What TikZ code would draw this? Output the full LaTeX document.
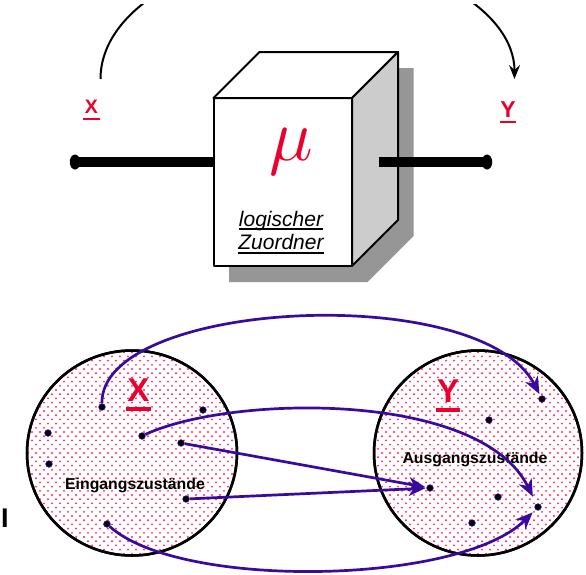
\RequirePackage{fix-cm}
\documentclass[tikz,border=0pt]{standalone}
\usepackage{fontspec}
\setmainfont{Liberation Sans}
\usetikzlibrary{arrows.meta,shapes.geometric}
\definecolor{xred}{RGB}{235,0,45}
\definecolor{arrblue}{RGB}{55,10,160}
\definecolor{sidegray}{RGB}{204,204,204}
\definecolor{shadowgray}{RGB}{150,150,150}
\definecolor{patred}{RGB}{255,40,95}
\tikzset{
  setell/.style={draw=black, line width=2.5pt, ellipse, inner sep=0pt},
  statedot/.style={circle, fill=black, draw=arrblue!80!black, line width=0.7pt,
    minimum size=6.5pt, inner sep=0pt},
  maparr/.style={draw=arrblue, line width=2.7pt,
    -{Stealth[length=17pt,width=14pt,inset=5pt]}},
  toparr/.style={draw=black, line width=2pt,
    -{Stealth[length=14pt,width=11pt,inset=5pt]}},
  portdot/.style={ellipse, fill=black, inner sep=0pt, minimum width=10.5pt, minimum height=15pt},
  redlab/.style={text=xred, font=\bfseries, inner sep=0pt},
  boxtxt/.style={font=\fontsize{21}{21}\selectfont\itshape, inner sep=0pt, anchor=base},
  settxt/.style={font=\fontsize{15.8}{16}\selectfont\bfseries, inner sep=0pt, anchor=base},
  patdot/.style={fill=patred},
}
\newcommand\pinkdots[2]{% centre x, centre y of a set
  \foreach \i in {0,...,27}{\foreach \j in {0,...,25}{%
    \fill[patdot] (#1-108+\i*8, #2-105+\j*8.4) circle (1.05);
    \fill[patdot] (#1-104+\i*8, #2-100.8+\j*8.4) circle (1.05);}}}
\begin{document}
\begin{tikzpicture}[x=1pt,y=-1pt]
\useasboundingbox[fill=white] (0,0) rectangle (586,574);

% ---------- top: logic unit ----------
\fill[shadowgray] (229,114) -- (275,68) -- (413.5,68) -- (413.5,236) -- (367.5,282) -- (229,282) -- cycle;
\draw[line width=2pt, fill=white, line join=round] (213.5,98) rectangle (352,266);
\draw[line width=2pt, fill=white, line join=round] (213.5,98) -- (259.5,52) -- (398,52) -- (352,98) -- cycle;
\draw[line width=2pt, fill=sidegray, line join=round] (352,98) -- (398,52) -- (398,220) -- (352,266) -- cycle;

\node[text=xred, inner sep=0pt, anchor=base, font=\fontsize{74}{74}\selectfont] (mu) at (291,160) {$\mu$};
\node[boxtxt] (t1) at (281,226) {logischer};
\node[boxtxt] (t2) at (281,249.5) {Zuordner};
\draw[line width=1.5pt] ([yshift=-3pt]t1.base west) -- ([yshift=-3pt]t1.base east);
\draw[line width=1.5pt] ([yshift=-3.5pt]t2.base west) -- ([yshift=-3.5pt]t2.base east);

% ports
\node[portdot] (pin) at (75,162) {};
\node[portdot] (pout) at (487,162) {};
\coordinate (boxL) at (213.5,162);
\coordinate (boxR) at (379,162);
\draw[line width=10pt] (pin.center) -- (boxL);
\draw[line width=10pt] (boxR) -- (pout.center);

% top labels
\node[redlab, font=\fontsize{19.5}{20}\selectfont\bfseries, anchor=base, inner xsep=1.5pt] (tX) at (91.5,113.3) {X};
\draw[xred, line width=2pt] ([yshift=-5.7pt]tX.base west) -- ([yshift=-5.7pt]tX.base east);
\node[redlab, font=\fontsize{23}{23}\selectfont\bfseries, anchor=base, inner xsep=0.5pt] (tY) at (508,117.3) {Y};
\draw[xred, line width=2.5pt] ([yshift=-4.7pt]tY.base west) -- ([yshift=-4.7pt]tY.base east);

% top mapping arc
\coordinate (arcL) at (100.5,79);
\begin{scope}
\clip (0,4) rectangle (586,300);
\draw[toparr] (arcL) arc[start angle=180, end angle=360, x radius=207, y radius=124];
\end{scope}

% ---------- bottom: sets ----------
\node[setell, fill=white, minimum width=210pt, minimum height=205pt] (SX) at (132,453) {};
\node[setell, fill=white, minimum width=208pt, minimum height=205pt] (SY) at (478,453) {};
\begin{scope}
\clip (132,453) ellipse [x radius=104, y radius=101.5];
\pinkdots{132}{453}
\end{scope}
\begin{scope}
\clip (478,453) ellipse [x radius=103, y radius=101.5];
\pinkdots{478}{453}
\end{scope}
\node[setell, minimum width=210pt, minimum height=205pt] at (SX.center) {};
\node[setell, minimum width=208pt, minimum height=205pt] at (SY.center) {};

\node[redlab, font=\fontsize{33}{33}\selectfont\bfseries, anchor=base, inner xsep=1pt] (bX) at (138.5,401.7) {X};
\draw[xred, line width=4pt] ([yshift=-7.3pt]bX.base west) -- ([yshift=-7.3pt]bX.base east);
\node[redlab, font=\fontsize{33}{33}\selectfont\bfseries, anchor=base, inner xsep=1pt] (bY) at (448,402.7) {Y};
\draw[xred, line width=4pt] ([yshift=-7.6pt]bY.base west) -- ([yshift=-7.6pt]bY.base east);

\node[settxt] (ein) at (135,489) {Eingangszustände};
\node[settxt] (aus) at (475,463) {Ausgangszustände};

\node[font=\fontsize{27}{27}\selectfont\bfseries, inner sep=0pt, anchor=base west] (cutI) at (1,527) {I};

% input states
\node[statedot] (l1) at (102,407) {};
\node[statedot] (l2) at (203,410) {};
\node[statedot] (l3) at (48,433) {};
\node[statedot] (l4) at (142,436) {};
\node[statedot] (l5) at (181,443) {};
\node[statedot] (l6) at (49,464) {};
\node[statedot] (l7) at (186,499) {};
\node[statedot] (l8) at (107,524) {};
% output states
\node[statedot] (r1) at (542,399) {};
\node[statedot] (r2) at (489,420) {};
\node[statedot] (r3) at (430,488) {};
\node[statedot] (r4) at (498,497) {};
\node[statedot] (r5) at (538,507) {};
\node[statedot] (r6) at (472,523) {};

% mappings
\draw[maparr, shorten >=2pt] (l1) .. controls (100,300) and (480,280) .. (r1);
\draw[maparr, shorten >=8pt] (l4) .. controls (230,395) and (480,390) .. (r5);
\draw[maparr, shorten >=1pt] (l5) -- (r3);
\draw[maparr, shorten >=1pt] (l7) -- (r3);
\draw[maparr, shorten >=4pt] (l8) .. controls (180,590) and (460,585) .. (r5);
\end{tikzpicture}
\end{document}
